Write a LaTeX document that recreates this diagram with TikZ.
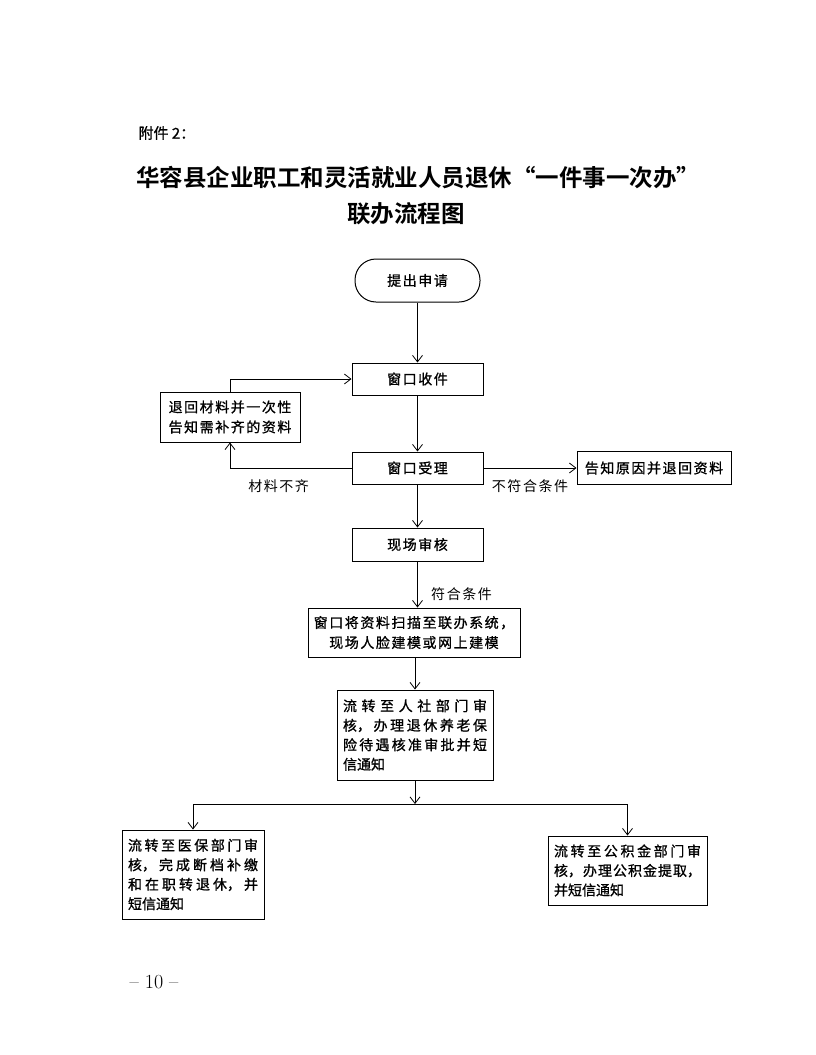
\documentclass[tikz,border=0pt]{standalone}
\usepackage{fontspec}
\usetikzlibrary{arrows.meta}
\newfontfamily\cjk[LetterSpace=11,FakeBold=1]{Noto Sans CJK SC}
\newfontfamily\cjkpar[FakeBold=1]{Noto Sans CJK SC}
\newfontfamily\cjklbl[LetterSpace=11]{Noto Sans CJK SC}
\newfontfamily\cjktitle{Noto Sans CJK SC Bold}
\XeTeXlinebreaklocale "zh"
\XeTeXlinebreakskip=0pt plus 10pt
\setlength\parindent{0pt}

\begin{document}
\begin{tikzpicture}[x=1pt,y=-1pt,
  >={Straight Barb[length=6.5pt,width=10pt]},
  box/.style={draw, line width=1pt, inner sep=0pt, align=center,
    font=\fontsize{14}{20}\selectfont\cjk},
  parbox/.style={draw, line width=1pt, inner xsep=6pt, inner ysep=0pt, align=justify,
    font=\fontsize{14}{19.5}\selectfont\cjkpar},
  flow/.style={->, line width=0.8pt},
  lbl/.style={font=\fontsize{14}{16}\selectfont\cjklbl}]

  \useasboundingbox (0,0) rectangle (815,1055);
  \fill[white] (0,0) rectangle (815,1055);

  \node[anchor=west, font=\fontsize{15}{18}\selectfont\cjkpar] (annex) at (135,133) {附件 2：};
  \node[font=\fontsize{23.5}{28}\selectfont\cjktitle] (title) at (418,178) {华容县企业职工和灵活就业人员退休“一件事一次办”};
  \node[font=\fontsize{23.5}{28}\selectfont\cjktitle] (subtitle) at (406,214) {联办流程图};

  \node[box, rounded corners=21pt, minimum width=125pt, minimum height=43pt] (apply) at (417.5,280.5) {提出申请};
  \node[box, minimum width=131pt, minimum height=32pt] (recv) at (417.5,379) {窗口收件};
  \node[box, minimum width=140pt, minimum height=50pt] (back) at (230,417) {退回材料并一次性\\告知需补齐的资料};
  \node[box, minimum width=131pt, minimum height=32pt] (accept) at (417.5,468) {窗口受理};
  \node[box, minimum width=154pt, minimum height=33pt] (refuse) at (654,468) {告知原因并退回资料};
  \node[box, minimum width=131pt, minimum height=33pt] (check) at (417.5,544.5) {现场审核};
  \node[box, minimum width=212pt, minimum height=49pt] (scan) at (414,632.5) {窗口将资料扫描至联办系统，\\现场人脸建模或网上建模};
  \node[parbox, text width=144pt, minimum height=90pt] (hr) at (415,735) {流转至人社部门审\linebreak 核，办理退休养老保\linebreak 险待遇核准审批并短\linebreak 信通知};
  \node[parbox, text width=130pt, minimum height=89pt] (med) at (193,874.5) {流转至医保部门审\linebreak 核，完成断档补缴\linebreak 和在职转退休，并\linebreak 短信通知};
  \node[parbox, text width=147pt, minimum height=69pt] (fund) at (627.5,870.5) {流转至公积金部门审\linebreak 核，办理公积金提取，\linebreak 并短信通知};

  \node[font=\fontsize{20}{24}\selectfont] (page) at (154,982) {– 10 –};

  \draw[flow] (apply) -- (recv);
  \draw[flow] (recv) -- (accept);
  \draw[flow] (accept) -- (check);
  \draw[flow] (back.north) |- (recv.west);
  \draw[flow] (accept.west) -| node[lbl, pos=0.3, below=8pt] {材料不齐} (back.south);
  \draw[flow] (accept) -- node[lbl, below=8pt] {不符合条件} (refuse);
  \draw[flow] (check.south) -- node[lbl, pos=0.7, right=10pt] {符合条件} (check.south |- scan.north);
  \draw[flow] (scan.south -| hr.north) -- (hr.north);

  \coordinate (fork) at (415,804);
  \draw[flow] (hr.south) -- (fork);
  \draw[flow] (fork) -| (med.north);
  \draw[flow] (fork) -| (fund.north);

\end{tikzpicture}
\end{document}
